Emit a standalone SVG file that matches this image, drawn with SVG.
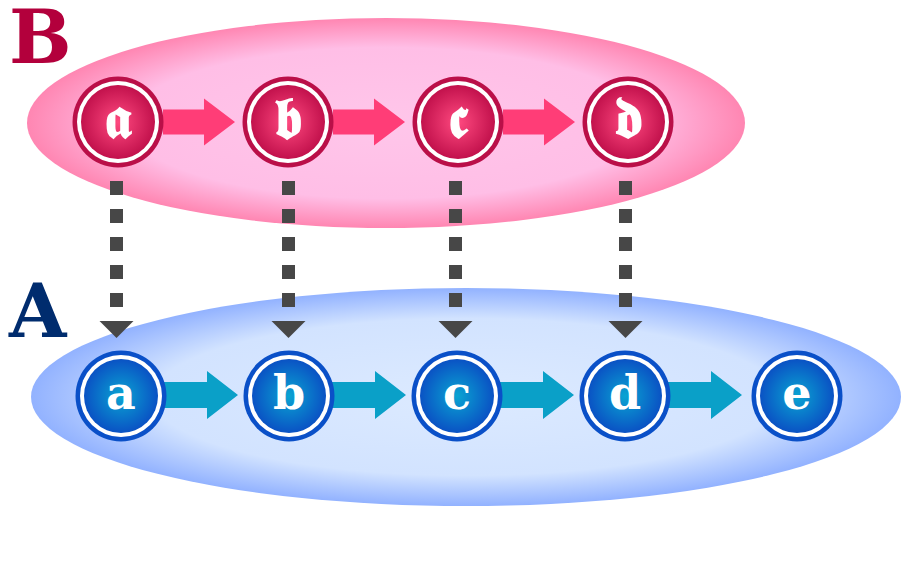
<svg xmlns="http://www.w3.org/2000/svg" width="901" height="585" viewBox="0 0 901 585">
<style>
.lbl{font-family:"DejaVu Serif","Liberation Serif",serif;font-weight:bold}
.nt{font-family:"DejaVu Serif","Liberation Serif",serif;font-weight:bold;fill:#fff;text-anchor:middle}
.fr{font-family:"DejaVu Serif","DejaVu Sans","Noto Sans",serif;font-weight:bold;fill:#fff;text-anchor:middle}
.dash{stroke:#474747;stroke-width:13;stroke-dasharray:14 14;fill:none}
</style>
<defs>
<radialGradient id="gP" cx="0.5" cy="0.5" r="0.5">
<stop offset="0" stop-color="#ffc6ea"/>
<stop offset="0.72" stop-color="#ffbee6"/>
<stop offset="1" stop-color="#ff86b2"/>
</radialGradient>
<radialGradient id="gB" cx="0.5" cy="0.5" r="0.5">
<stop offset="0" stop-color="#dceaff"/>
<stop offset="0.72" stop-color="#d2e3ff"/>
<stop offset="1" stop-color="#92b2ff"/>
</radialGradient>
<radialGradient id="nP" cx="0.5" cy="0.5" r="0.5">
<stop offset="0" stop-color="#ff4a80"/>
<stop offset="1" stop-color="#c2114c"/>
</radialGradient>
<radialGradient id="nB" cx="0.5" cy="0.5" r="0.5">
<stop offset="0" stop-color="#0aa4d2"/>
<stop offset="1" stop-color="#0a52c4"/>
</radialGradient>
<g id="pn"><circle r="45.5" fill="#ba0f48"/><circle r="41" fill="#fff"/><circle r="37" fill="url(#nP)"/></g>
<g id="bn"><circle r="45.5" fill="#0a50c8"/><circle r="41" fill="#fff"/><circle r="37" fill="url(#nB)"/></g>
<path id="pa" d="M0,-12.5 H41 V-23.5 L72,0 L41,23.5 V12.5 H0 Z" fill="#ff3d77"/>
<path id="ba" d="M0,-13 H47 V-24 L78,0 L47,24 V13 H0 Z" fill="#0aa0c8"/>
<path id="ah" d="M-17,0 H17 L0,17 Z" fill="#474747"/>
</defs>
<ellipse cx="386" cy="123" rx="359" ry="105" fill="url(#gP)"/>
<ellipse cx="466" cy="397" rx="435" ry="109" fill="url(#gB)"/>
<text class="lbl" x="9" y="63" font-size="74" fill="#b3003c">B</text>
<text class="lbl" x="9" y="337" font-size="74" fill="#002c6e">A</text>
<g id="connectors">
<use href="#pa" x="163" y="122"/>
<use href="#pa" x="333" y="122"/>
<use href="#pa" x="503" y="122"/>
<use href="#ba" x="160" y="395"/>
<use href="#ba" x="328" y="395"/>
<use href="#ba" x="496" y="395"/>
<use href="#ba" x="664" y="395"/>
<path class="dash" d="M116.5,181 V318"/>
<path class="dash" d="M288.5,181 V318"/>
<path class="dash" d="M455.5,181 V318"/>
<path class="dash" d="M625.5,181 V318"/>
<use href="#ah" x="116.5" y="321"/>
<use href="#ah" x="288.5" y="321"/>
<use href="#ah" x="455.5" y="321"/>
<use href="#ah" x="625.5" y="321"/>
</g>
<g id="Ba"><use href="#pn" x="118" y="122"/><text class="fr" x="118" y="138" font-size="58">𝖆</text></g>
<g id="Bb"><use href="#pn" x="288" y="122"/><text class="fr" x="288" y="138" font-size="58">𝖇</text></g>
<g id="Bc"><use href="#pn" x="458" y="122"/><text class="fr" x="458" y="138" font-size="58">𝖈</text></g>
<g id="Bd"><use href="#pn" x="628" y="122"/><text class="fr" x="628" y="138" font-size="58">𝖉</text></g>
<g id="Aa"><use href="#bn" x="121" y="396"/><text class="nt" x="121" y="409" font-size="46">a</text></g>
<g id="Ab"><use href="#bn" x="289" y="396"/><text class="nt" x="289" y="409" font-size="46">b</text></g>
<g id="Ac"><use href="#bn" x="457" y="396"/><text class="nt" x="457" y="409" font-size="46">c</text></g>
<g id="Ad"><use href="#bn" x="625" y="396"/><text class="nt" x="625" y="409" font-size="46">d</text></g>
<g id="Ae"><use href="#bn" x="797" y="396"/><text class="nt" x="797" y="409" font-size="46">e</text></g>
</svg>
